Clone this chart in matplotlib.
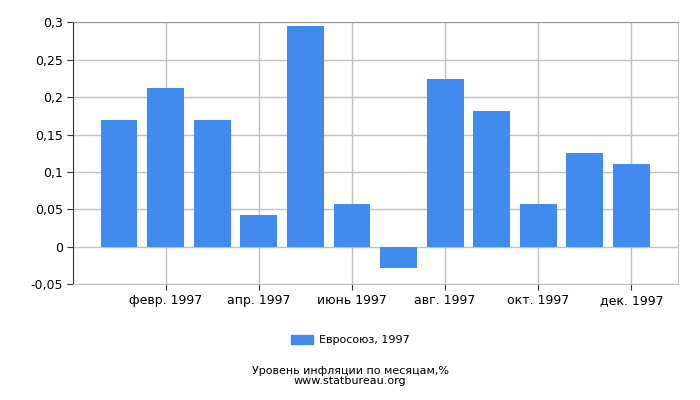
import matplotlib
matplotlib.use("Agg")
import matplotlib.pyplot as plt
from matplotlib.patches import Patch

# Données
mois = ["янв. 1997", "февр. 1997", "март 1997", "апр. 1997", "май 1997", "июнь 1997",
        "июль 1997", "авг. 1997", "сент. 1997", "окт. 1997", "нояб. 1997", "дек. 1997"]
valeurs = [0.169, 0.212, 0.169, 0.042, 0.295, 0.057, -0.028, 0.224, 0.181, 0.057, 0.125, 0.111]
y_ticks = [-0.05, 0, 0.05, 0.1, 0.15, 0.2, 0.25, 0.3]
y_labels = ["-0,05", "0", "0,05", "0,1", "0,15", "0,2", "0,25", "0,3"]
legende = "Евросоюз, 1997"
titre = "Уровень инфляции по месяцам,%"
source = "www.statbureau.org"

couleur = "#428bee"
grille = "#c0c0c0"

fig = plt.figure(figsize=(7, 4), dpi=100)
ax = fig.add_axes([72.5 / 700, 1 - 284 / 400, (678 - 72.5) / 700, (284 - 22.5) / 400])

x = list(range(1, len(valeurs) + 1))
ax.bar(x, valeurs, width=0.79, color=couleur, zorder=3)

ax.set_xlim(0, 13)
ax.set_ylim(-0.05, 0.3)
ax.set_yticks(y_ticks)
ax.set_yticklabels(y_labels, fontsize=9)
ax.set_xticks(x[1::2])
ax.set_xticklabels(mois[1::2], fontsize=9)

ax.grid(True, color=grille, linewidth=1, zorder=0)
for cote in ["top", "right", "bottom"]:
    ax.spines[cote].set_color(grille)
ax.spines["top"].set_color("#999999")
ax.spines["left"].set_color("#333333")
ax.tick_params(axis="both", length=4, color="#333333", pad=3)

fig.legend(handles=[Patch(color=couleur, label=legende)], loc="center",
           bbox_to_anchor=(0.5, 1 - 340 / 400), frameon=False, fontsize=8,
           handlelength=2.0, handleheight=0.9, handletextpad=0.5)
fig.text(0.5, 1 - 371 / 400, titre, ha="center", va="center", fontsize=8)
fig.text(0.5, 1 - 381 / 400, source, ha="center", va="center", fontsize=8)

fig.savefig("out.png", dpi=100)
